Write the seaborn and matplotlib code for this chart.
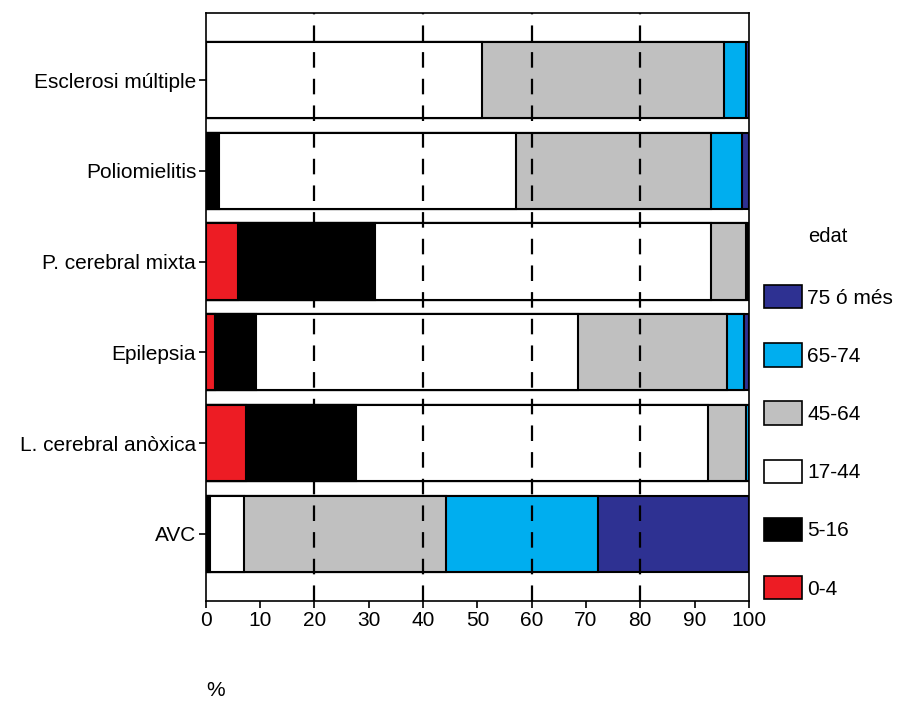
import matplotlib
matplotlib.use("Agg")
import matplotlib.pyplot as plt
import seaborn as sns
import pandas as pd
import numpy as np
from matplotlib.patches import Patch

categories = ["Esclerosi múltiple", "Poliomielitis", "P. cerebral mixta",
              "Epilepsia", "L. cerebral anòxica", "AVC"]
age_groups = ["0-4", "5-16", "17-44", "45-64", "65-74", "75 ó més"]
# percentage per age group (same order as categories)
v_0_4 = [0.0, 0.0, 5.9, 1.6, 7.4, 0.0]
v_5_16 = [0.0, 2.4, 25.3, 7.7, 20.2, 0.8]
v_17_44 = [50.9, 54.7, 61.8, 59.3, 64.8, 6.3]
v_45_64 = [44.6, 35.9, 6.4, 27.4, 7.1, 37.1]
v_65_74 = [3.9, 5.7, 0.5, 3.1, 0.5, 28.0]
v_75 = [0.6, 1.3, 0.1, 0.9, 0.0, 27.8]
colors = ["#ED1C24", "#000000", "#FFFFFF", "#C0C0C0", "#00AEEF", "#2E3192"]

series = [v_0_4, v_5_16, v_17_44, v_45_64, v_65_74, v_75]
cum = np.zeros(len(categories))
cums = []
for s in series:
    cum = cum + np.array(s)
    cums.append(cum.copy())

sns.set_style("white")
plt.rcParams["font.family"] = ["Liberation Sans", "DejaVu Sans"]
plt.rcParams["text.color"] = "black"
plt.rcParams["xtick.color"] = "black"
plt.rcParams["ytick.color"] = "black"
plt.rcParams["axes.labelcolor"] = "black"
FS = 15

fig = plt.figure(figsize=(8.99, 7.02), dpi=100)
ax = fig.add_axes([0.229, 0.144, 0.604, 0.8375])

for i in range(len(series) - 1, -1, -1):
    d = pd.DataFrame({"cat": categories, "val": cums[i]})
    sns.barplot(data=d, x="val", y="cat", orient="h", color=colors[i],
                saturation=1, width=0.84, edgecolor="black", linewidth=1.5,
                ax=ax, zorder=2)

ax.set_xlim(0, 100)
ax.set_ylim(5.74, -0.74)
ax.set_xticks(range(0, 101, 10))
for xv in [20, 40, 60, 80]:
    ax.axvline(xv, color="black", linestyle=(0, (7, 5)), linewidth=1.6, zorder=5)
ax.set_xlabel("")
ax.set_ylabel("")
ax.tick_params(axis="both", which="both", direction="out", length=5, width=1.2,
               labelsize=FS, colors="black", left=True, bottom=True, pad=2)
for sp in ax.spines.values():
    sp.set_visible(True)
    sp.set_color("black")
    sp.set_linewidth(1.2)

fig.text(216 / 899, 1 - 691 / 702, "%", fontsize=FS, ha="center", va="center")
fig.text(808 / 899, 1 - 236 / 702, "edat", fontsize=FS - 0.5, ha="left", va="center")

handles = [Patch(facecolor=colors[i], edgecolor="black", linewidth=1.2,
                 label=age_groups[i]) for i in range(len(age_groups) - 1, -1, -1)]
fig.legend(handles=handles, loc="upper left", bbox_to_anchor=(764 / 899, 1 - 285 / 702),
           frameon=False, fontsize=FS, handlelength=1.83, handleheight=1.35,
           labelspacing=1.67, handletextpad=0.25, borderpad=0, borderaxespad=0)

fig.savefig("out.png", dpi=100)
